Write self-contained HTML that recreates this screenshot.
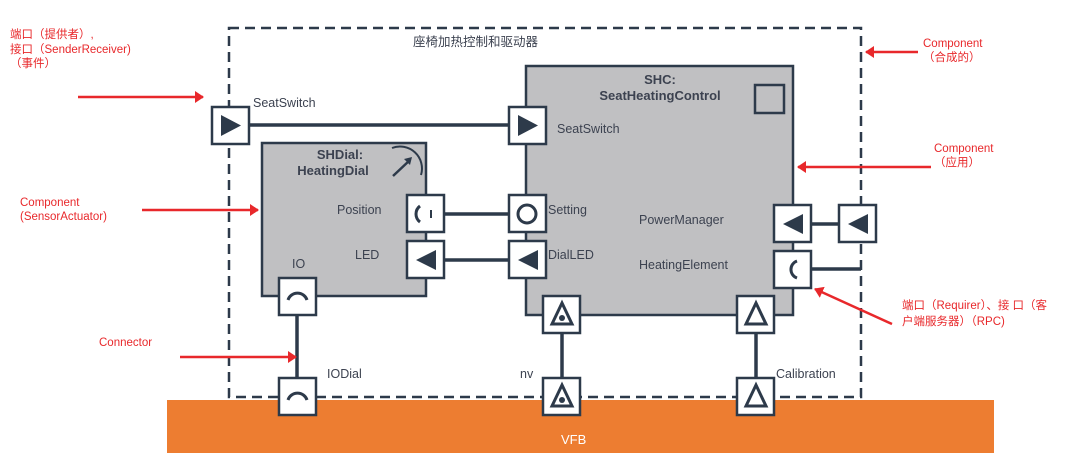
<!DOCTYPE html>
<html><head><meta charset="utf-8"><style>
html,body{margin:0;padding:0;background:#fff;}
svg{display:block;}
text{font-family:"Liberation Sans","Noto Sans CJK SC",sans-serif;font-size:12.5px;fill:#3c4250;}
.r{fill:#e8282b;font-size:11.5px;}
.b{font-weight:bold;font-size:13px;}
</style></head><body>
<svg width="1080" height="464" viewBox="0 0 1080 464" xmlns="http://www.w3.org/2000/svg">
<defs>
<marker id="ah" markerWidth="10" markerHeight="12" refX="8" refY="6" orient="auto" markerUnits="userSpaceOnUse">
<path d="M0,0 L9,6 L0,12 z" fill="#e8282b"/></marker>
</defs>
<rect x="167" y="400" width="827" height="53" fill="#ed7d31"/>
<text x="561" y="444" style="fill:#fff;font-size:13px">VFB</text>
<rect x="229" y="28" width="632" height="369" fill="none" stroke="#2d3a4a" stroke-width="2.5" stroke-dasharray="10,6"/>
<text x="413" y="46">座椅加热控制和驱动器</text>
<rect x="526" y="66" width="267" height="249" fill="#c0c0c2" stroke="#2d3a4a" stroke-width="2.5"/>
<rect x="755" y="85" width="29" height="28" fill="none" stroke="#2d3a4a" stroke-width="2.5"/>
<text x="660" y="84" text-anchor="middle" class="b">SHC:</text>
<text x="660" y="100" text-anchor="middle" class="b">SeatHeatingControl</text>
<text x="557" y="133">SeatSwitch</text>
<text x="548" y="214">Setting</text>
<text x="548" y="259">DialLED</text>
<text x="639" y="224">PowerManager</text>
<text x="639" y="269">HeatingElement</text>
<rect x="262" y="143" width="164" height="153" fill="#c0c0c2" stroke="#2d3a4a" stroke-width="2.5"/>
<text x="340" y="159" text-anchor="middle" class="b">SHDial:</text>
<text x="333" y="175" text-anchor="middle" class="b">HeatingDial</text>
<path d="M392,148 A22,22 0 0 1 421,175" fill="none" stroke="#2d3a4a" stroke-width="2"/>
<path d="M393,176 L410,160" stroke="#2d3a4a" stroke-width="2.5"/>
<path d="M412,157 L404,159 L410,165 z" fill="#2d3a4a"/>
<text x="337" y="214">Position</text>
<text x="355" y="259">LED</text>
<text x="292" y="268">IO</text>
<text x="327" y="378">IODial</text>
<text x="520" y="378">nv</text>
<text x="776" y="378">Calibration</text>
<text x="253" y="107">SeatSwitch</text>
<g stroke="#2d3a4a" stroke-width="3.5">
<line x1="249" y1="125" x2="509" y2="125"/>
<line x1="444" y1="214" x2="509" y2="214"/>
<line x1="444" y1="260" x2="509" y2="260"/>
<line x1="297" y1="315" x2="297" y2="378"/>
<line x1="562" y1="333" x2="562" y2="378"/>
<line x1="756" y1="333" x2="756" y2="378"/>
<line x1="811" y1="224" x2="839" y2="224"/>
<line x1="811" y1="269" x2="861" y2="269"/>
</g>
<g fill="#fff" stroke="#2d3a4a" stroke-width="2.5">
<rect x="212" y="107" width="37" height="37"/>
<rect x="509" y="107" width="37" height="37"/>
<rect x="407" y="195" width="37" height="37"/>
<rect x="509" y="195" width="37" height="37"/>
<rect x="407" y="241" width="37" height="37"/>
<rect x="509" y="241" width="37" height="37"/>
<rect x="279" y="278" width="37" height="37"/>
<rect x="279" y="378" width="37" height="37"/>
<rect x="543" y="296" width="37" height="37"/>
<rect x="543" y="378" width="37" height="37"/>
<rect x="737" y="296" width="37" height="37"/>
<rect x="737" y="378" width="37" height="37"/>
<rect x="774" y="205" width="37" height="37"/>
<rect x="839" y="205" width="37" height="37"/>
<rect x="774" y="251" width="37" height="37"/>
</g>
<g fill="#2d3a4a">
<path d="M221,115 L241,125.5 L221,136 z"/>
<path d="M518,115 L538,125.5 L518,136 z"/>
<path d="M436,250 L416,260 L436,270 z"/>
<path d="M538,250 L518,260 L538,270 z"/>
<path d="M803,214 L783,224 L803,234 z"/>
<path d="M868,214 L848,224 L868,234 z"/>
<circle cx="562" cy="318" r="3"/>
<circle cx="562" cy="400" r="3"/>
</g>
<g fill="none" stroke="#2d3a4a" stroke-width="3">
<circle cx="527" cy="214" r="9"/>
<path d="M420,206 A10,10 0 0 0 420,222"/>
<path d="M431,210 L431,218" stroke-width="2"/>
<path d="M797,261 A9,9 0 0 0 797,278"/>
<path d="M288,300 A10,10 0 0 1 307,300"/>
<path d="M288,400 A10,10 0 0 1 307,400"/>
<path d="M562,303 L552,324 L572,324 z"/>
<path d="M562,385 L552,406 L572,406 z"/>
<path d="M756,303 L746,324 L766,324 z"/>
<path d="M756,385 L746,406 L766,406 z"/>
</g>
<g stroke="#e8282b" stroke-width="2.5" fill="none">
<line x1="78" y1="97" x2="203" y2="97" marker-end="url(#ah)"/>
<line x1="142" y1="210" x2="258" y2="210" marker-end="url(#ah)"/>
<line x1="180" y1="357" x2="296" y2="357" marker-end="url(#ah)"/>
<line x1="918" y1="52" x2="866" y2="52" marker-end="url(#ah)"/>
<line x1="931" y1="167" x2="798" y2="167" marker-end="url(#ah)"/>
<line x1="892" y1="324" x2="815" y2="289" marker-end="url(#ah)"/>
</g>
<text class="r" x="10" y="38">端口（提供者）,</text>
<text class="r" x="10" y="53">接口（SenderReceiver)</text>
<text class="r" x="10" y="67">（事件）</text>
<text class="r" x="20" y="206">Component</text>
<text class="r" x="20" y="220">(SensorActuator)</text>
<text class="r" x="99" y="346">Connector</text>
<text class="r" x="923" y="47">Component</text>
<text class="r" x="923" y="61">（合成的）</text>
<text class="r" x="934" y="152">Component</text>
<text class="r" x="934" y="166">（应用）</text>
<text class="r" x="902" y="309">端口（Requirer）、接 口（客</text>
<text class="r" x="902" y="325">户端服务器）（RPC)</text>
</svg>
</body></html>
